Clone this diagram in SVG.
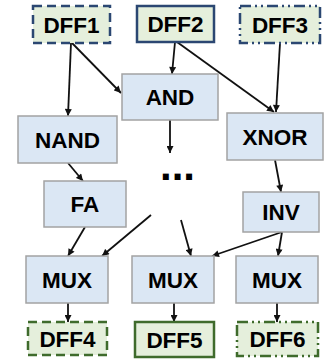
<svg xmlns="http://www.w3.org/2000/svg" width="331" height="361" viewBox="0 0 331 361">
  <defs>
    <marker id="arrow" viewBox="0 0 10 10" refX="10" refY="5" markerWidth="8" markerHeight="7" markerUnits="userSpaceOnUse" orient="auto">
      <path d="M0,0 L10,5 L0,10 z" fill="#111"/>
    </marker>
    <style>
      .gate { fill: #dbe7f4; stroke: #a3a3a3; stroke-width: 1.5; }
      .ff-in { fill: #e5efdc; stroke: #2b4772; stroke-width: 2.5; }
      .ff-out { fill: #e5efdc; stroke: #3f6b2c; stroke-width: 2.5; }
      .dash { stroke-dasharray: 9 5; }
      .dashdot { stroke-dasharray: 11 4 2 4 2 4; }
      .lbl { font-family: "Liberation Sans", Arial, sans-serif; font-weight: bold; font-size: 22.5px; fill: #000; text-anchor: middle; }
      .wire { stroke: #111; stroke-width: 1.8; fill: none; marker-end: url(#arrow); }
    </style>
  </defs>
  <rect width="331" height="361" fill="#ffffff"/>

  <!-- connectors -->
  <g id="connectors">
    <line class="wire" x1="71" y1="43" x2="68" y2="116"/>
    <line class="wire" x1="72" y1="43" x2="121" y2="93"/>
    <line class="wire" x1="175" y1="42" x2="172" y2="74"/>
    <line class="wire" x1="177" y1="42" x2="274" y2="112"/>
    <line class="wire" x1="280" y1="43" x2="276" y2="112"/>
    <line class="wire" x1="170" y1="120" x2="170" y2="153"/>
    <line class="wire" x1="68" y1="163" x2="83" y2="181"/>
    <line class="wire" x1="275" y1="160" x2="281" y2="192"/>
    <line class="wire" x1="85" y1="227" x2="68" y2="256"/>
    <line class="wire" x1="151" y1="215" x2="102" y2="256"/>
    <line class="wire" x1="181" y1="220" x2="191" y2="256"/>
    <line class="wire" x1="282" y1="232" x2="212" y2="256"/>
    <line class="wire" x1="282" y1="232" x2="278" y2="256"/>
    <line class="wire" x1="68" y1="303" x2="68" y2="322"/>
    <line class="wire" x1="174" y1="303" x2="174" y2="322"/>
    <line class="wire" x1="277" y1="303" x2="277" y2="322"/>
  </g>

  <!-- source flip-flops -->
  <g id="dff1">
    <rect class="ff-in dash" x="33" y="6" width="77" height="37"/>
    <text class="lbl" x="71.5" y="32.5">DFF1</text>
  </g>
  <g id="dff2">
    <rect class="ff-in" x="137" y="6" width="77" height="36"/>
    <text class="lbl" x="175.5" y="32">DFF2</text>
  </g>
  <g id="dff3">
    <rect class="ff-in dashdot" x="240" y="6" width="80" height="37"/>
    <text class="lbl" x="280" y="32.5">DFF3</text>
  </g>

  <!-- logic -->
  <g id="and">
    <rect class="gate" x="122" y="74" width="96" height="46"/>
    <text class="lbl" x="170" y="105">AND</text>
  </g>
  <g id="nand">
    <rect class="gate" x="18" y="116" width="99" height="47"/>
    <text class="lbl" x="67.5" y="148">NAND</text>
  </g>
  <g id="xnor">
    <rect class="gate" x="227" y="113" width="96" height="47"/>
    <text class="lbl" x="275" y="145">XNOR</text>
  </g>
  <g id="fa">
    <rect class="gate" x="44" y="181" width="82" height="46"/>
    <text class="lbl" x="85" y="212">FA</text>
  </g>
  <g id="inv">
    <rect class="gate" x="243" y="192" width="76" height="40"/>
    <text class="lbl" x="281" y="220">INV</text>
  </g>
  <g id="ellipsis">
    <text x="177.5" y="180" font-family="Liberation Sans, Arial, sans-serif" font-weight="bold" font-size="42" text-anchor="middle" fill="#000">...</text>
  </g>

  <!-- multiplexers -->
  <g id="mux1">
    <rect class="gate" x="26" y="256" width="82" height="47"/>
    <text class="lbl" x="67" y="288">MUX</text>
  </g>
  <g id="mux2">
    <rect class="gate" x="132" y="256" width="82" height="47"/>
    <text class="lbl" x="173" y="288">MUX</text>
  </g>
  <g id="mux3">
    <rect class="gate" x="236" y="256" width="82" height="47"/>
    <text class="lbl" x="277" y="288">MUX</text>
  </g>

  <!-- sink flip-flops -->
  <g id="dff4">
    <rect class="ff-out dash" x="28" y="322" width="79" height="33"/>
    <text class="lbl" x="67.5" y="346.5">DFF4</text>
  </g>
  <g id="dff5">
    <rect class="ff-out" x="135" y="322" width="79" height="35"/>
    <text class="lbl" x="174.5" y="347.5">DFF5</text>
  </g>
  <g id="dff6">
    <rect class="ff-out dashdot" x="237" y="322" width="81" height="34"/>
    <text class="lbl" x="277.5" y="347">DFF6</text>
  </g>
</svg>
